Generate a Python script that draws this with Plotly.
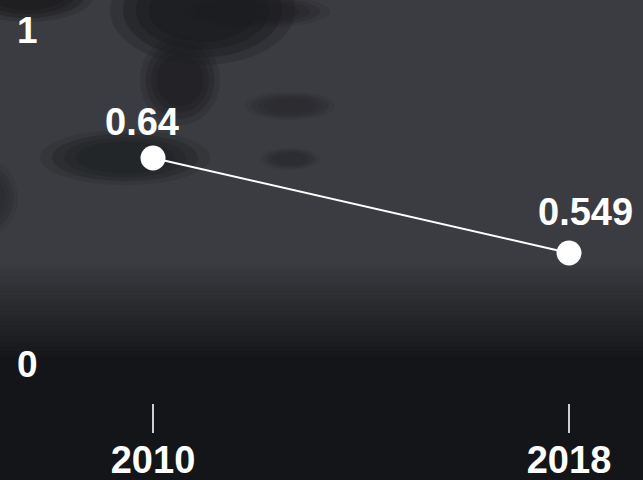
import plotly.graph_objects as go

# ---- data ----
years = [2010, 2018]
values = [0.64, 0.549]
value_labels = ["0.64", "0.549"]
scale_labels = ["1", "0"]

W, H = 643, 480
B = 77  # bottom margin (axis baseline)
PH = H - B

def px(x):
    return x / W

def py(y):
    return (PH - y) / PH

FONT = "Liberation Sans, Arial, Helvetica, sans-serif"

shapes = []
shapes.append(dict(type="rect", xref="paper", yref="paper", x0=0, x1=1,
                   y0=py(270), y1=py(-5), fillcolor="#3b3c41", line_width=0, layer="below"))

def lerp(c1, c2, t):
    a = [int(c1[i:i+2], 16) for i in (1, 3, 5)]
    b = [int(c2[i:i+2], 16) for i in (1, 3, 5)]
    return "#%02x%02x%02x" % tuple(int(a[k] + (b[k] - a[k]) * t) for k in range(3))

n = 24
top_g, bot_g = 265, 355
for i in range(n):
    y0 = top_g + (bot_g - top_g) * i / n
    y1 = top_g + (bot_g - top_g) * (i + 1) / n
    shapes.append(dict(type="rect", xref="paper", yref="paper", x0=0, x1=1,
                       y0=py(y1 + 0.5), y1=py(y0), fillcolor=lerp("#3a3b40", "#16181b", (i + 0.5) / n),
                       line_width=0, layer="below"))

def blob(x0, y0, x1, y1, color, op, steps=4):
    cx, cy = (x0 + x1) / 2, (y0 + y1) / 2
    rx, ry = (x1 - x0) / 2, (y1 - y0) / 2
    for s in range(steps):
        f = 1 - s * 0.14
        shapes.append(dict(type="circle", xref="paper", yref="paper",
                           x0=px(cx - rx * f), x1=px(cx + rx * f),
                           y0=py(cy + ry * f), y1=py(cy - ry * f),
                           fillcolor=color, opacity=op / steps * 1.6 if s else op / steps,
                           line_width=0, layer="below"))

blob(110, -45, 295, 65, "#18191d", 0.95)
blob(-40, -35, 95, 22, "#18191d", 0.9)
blob(140, 35, 220, 125, "#1c1d21", 0.85)
blob(40, 130, 210, 185, "#1e1f23", 0.85)
blob(245, 92, 335, 120, "#26272b", 0.7)
blob(260, 148, 320, 170, "#26272b", 0.6)
blob(-45, 160, 18, 235, "#26272b", 0.7)
blob(185, -5, 330, 28, "#1c1d21", 0.6)

fig = go.Figure()
fig.add_trace(go.Scatter(
    x=years, y=values, mode="lines+markers",
    line=dict(color="white", width=2),
    marker=dict(size=25, color="white"),
    hoverinfo="skip", showlegend=False,
))

annotations = []
offsets = [(-11, 36), (16, 41)]
for yr, v, lab, (dx, dy) in zip(years, values, value_labels, offsets):
    annotations.append(dict(x=yr, y=v, xref="x", yref="y", text=lab, showarrow=False,
                            xshift=dx, yshift=dy,
                            font=dict(family=FONT, size=38, color="white", weight="bold")))
for lab, ypix in zip(scale_labels, [30, 364]):
    annotations.append(dict(x=px(27), y=py(ypix), xref="paper", yref="paper", text=lab,
                            showarrow=False, xanchor="center", yanchor="middle",
                            font=dict(family=FONT, size=37, color="white", weight="bold")))

# y scale: 0.64 -> 158px, 0.549 -> 253px
k = (253 - 158) / (values[0] - values[1])
ytop = values[0] + 158 / k
ybot = ytop - PH / k
# x scale: 2010 -> 153px, 2018 -> 569px
kx = (569 - 153) / (years[1] - years[0])
xleft = years[0] - 153 / kx
xright = years[0] + (W - 153) / kx

fig.update_layout(
    width=W, height=H,
    margin=dict(l=0, r=0, t=0, b=B, autoexpand=False),
    paper_bgcolor="#131518",
    plot_bgcolor="rgba(0,0,0,0)",
    shapes=shapes,
    annotations=annotations,
    xaxis=dict(range=[xleft, xright], tickvals=years, ticktext=[str(y) for y in years],
               ticks="outside", ticklen=29, tickwidth=2, tickcolor="#cfcfcf",
               ticklabelstandoff=-6,
               showgrid=False, zeroline=False, showline=False, automargin=False,
               tickfont=dict(family=FONT, size=38, color="white", weight="bold"),
               fixedrange=True),
    yaxis=dict(range=[ybot, ytop], visible=False, showgrid=False, zeroline=False,
               automargin=False, fixedrange=True),
)

fig.write_html("out.html", config={"displayModeBar": False},
               post_script="document.body.style.margin='0';document.body.style.overflow='hidden';document.body.style.background='#131518';")
